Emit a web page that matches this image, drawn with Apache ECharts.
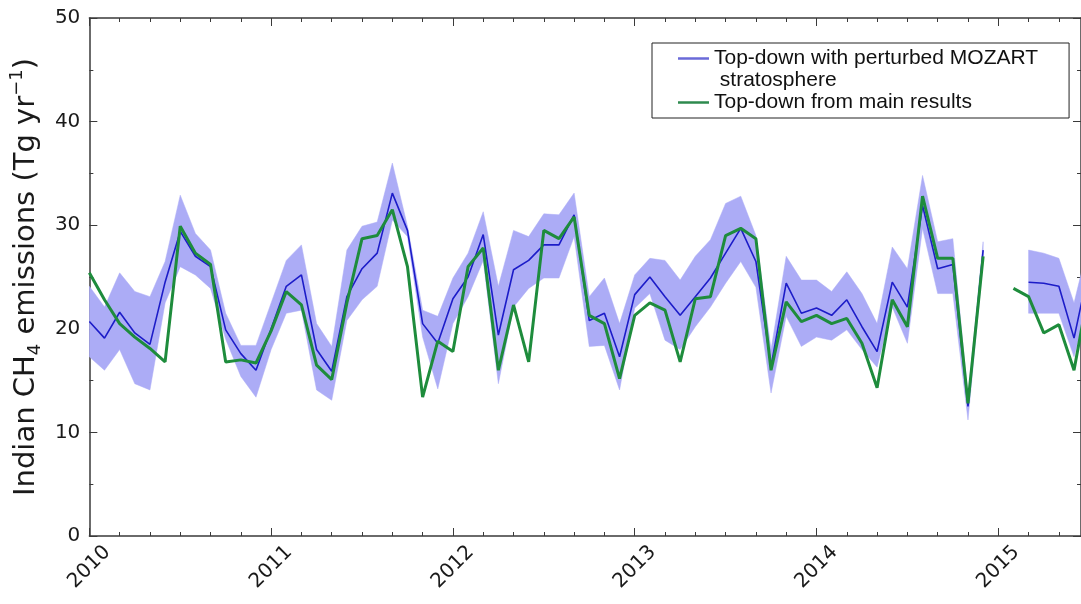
<!DOCTYPE html>
<html>
<head>
<meta charset="utf-8">
<script src="https://cdn.jsdelivr.net/npm/echarts@6/dist/echarts.min.js"></script>
<style>
  html, body { margin: 0; padding: 0; background: #fff; }
  #chart { width: 1081px; height: 604px; }
</style>
</head>
<body>
<div id="chart"></div>
<script>
// monthly points, Jan 2010 .. Jul 2015
const months = [
  '2010-01','2010-02','2010-03','2010-04','2010-05','2010-06','2010-07','2010-08','2010-09','2010-10','2010-11','2010-12',
  '2011-01','2011-02','2011-03','2011-04','2011-05','2011-06','2011-07','2011-08','2011-09','2011-10','2011-11','2011-12',
  '2012-01','2012-02','2012-03','2012-04','2012-05','2012-06','2012-07','2012-08','2012-09','2012-10','2012-11','2012-12',
  '2013-01','2013-02','2013-03','2013-04','2013-05','2013-06','2013-07','2013-08','2013-09','2013-10','2013-11','2013-12',
  '2014-01','2014-02','2014-03','2014-04','2014-05','2014-06','2014-07','2014-08','2014-09','2014-10','2014-11','2014-12',
  '2015-01','2015-02','2015-03','2015-04','2015-05','2015-06','2015-07'
];

// top-down with perturbed MOZART stratosphere (Tg/yr)
const perturbed = [
  20.7, 19.1, 21.6, 19.6, 18.5, 24.5, 29.4, 27.0, 26.0, 19.9, 17.6, 16.0,
  20.0, 24.1, 25.2, 18.0, 15.9, 23.1, 25.8, 27.3, 33.1, 29.5, 20.5, 18.6,
  22.9, 25.0, 29.1, 19.4, 25.7, 26.6, 28.1, 28.1, 31.0, 20.8, 21.5, 17.3,
  23.3, 25.0, 23.1, 21.3, 23.1, 24.9, 27.3, 29.7, 26.5, 16.4, 24.4, 21.5,
  22.0, 21.3, 22.8, 20.2, 17.8, 24.5, 22.1, 31.9, 25.8, 26.2, 12.5, 27.6,
  null, null, 24.5, 24.4, 24.1, 19.1, 26.0
];
const perturbedLow = [
  17.3, 16.0, 18.0, 14.7, 14.1, 22.5, 26.0, 25.2, 23.9, 19.0, 15.4, 13.4,
  18.0, 21.5, 21.8, 14.1, 13.1, 20.8, 22.8, 24.1, 30.5, 28.9, 19.2, 14.2,
  20.5, 23.1, 26.6, 14.7, 22.1, 23.9, 24.9, 24.9, 28.9, 18.3, 18.4, 14.1,
  22.0, 23.4, 18.9, 18.0, 20.2, 22.1, 24.4, 26.5, 24.0, 13.8, 21.2, 18.3,
  19.2, 18.9, 19.9, 18.0, 16.3, 22.1, 18.6, 29.7, 23.4, 23.4, 11.2, 26.6,
  null, null, 21.5, 21.5, 21.5, 17.3, 23.0
];
const perturbedHigh = [
  24.1, 22.1, 25.4, 23.6, 23.1, 26.5, 32.9, 29.2, 27.6, 21.5, 18.4, 18.4,
  22.5, 26.6, 28.1, 20.5, 18.3, 27.6, 29.9, 30.3, 36.0, 29.9, 21.8, 21.2,
  24.9, 27.3, 31.3, 24.1, 29.5, 28.9, 31.1, 31.0, 33.1, 23.1, 24.9, 20.5,
  25.2, 26.8, 26.6, 24.7, 27.0, 28.6, 32.1, 32.8, 29.0, 18.0, 27.0, 24.7,
  24.7, 23.6, 25.5, 23.4, 20.5, 27.9, 25.8, 34.8, 28.4, 28.7, 13.4, 28.4,
  null, null, 27.6, 27.3, 26.8, 22.5, 28.5
];
// top-down from main results
const mainResults = [
  25.4, 22.8, 20.5, 19.2, 18.1, 16.8, 29.9, 27.3, 26.2, 16.8, 17.0, 16.7,
  19.8, 23.6, 22.3, 16.5, 15.1, 22.5, 28.7, 29.0, 31.5, 26.0, 13.4, 18.8,
  17.8, 26.0, 27.8, 16.0, 22.3, 16.8, 29.5, 28.7, 30.8, 21.3, 20.5, 15.2,
  21.3, 22.5, 21.8, 16.8, 22.9, 23.1, 29.0, 29.7, 28.7, 16.0, 22.6, 20.7,
  21.3, 20.5, 21.0, 18.6, 14.3, 22.8, 20.2, 32.8, 26.8, 26.8, 12.8, 27.0,
  null, 23.9, 23.1, 19.6, 20.4, 16.0, 24.0
];

const yTicks = [0, 10, 20, 30, 40, 50];
const xMin = 2010;
const xMax = 2015.455;

const BLUE_NAME = 'Top-down with perturbed MOZART';
const GREEN_NAME = 'Top-down from main results';

function toYear(s) {
  const [y, m] = s.split('-').map(Number);
  return y + (m - 1) / 12;
}
const xs = months.map(toYear);
const pair = (arr) => xs.map((x, i) => [x, arr[i] == null ? null : arr[i]]);
const bandData = xs.map((x, i) => [x, perturbedLow[i], perturbedHigh[i]]);

const axisColor = '#3a3a3a';
const tickFont = { fontFamily: 'DejaVu Sans', fontSize: 20, color: '#1a1a1a' };

function renderBand(params, api) {
  if (params.dataIndex !== 0) return null;
  const children = [];
  let seg = [];
  const flush = () => {
    if (seg.length > 1) {
      const top = seg.map((d) => api.coord([d[0], d[2]]));
      const bot = seg.slice().reverse().map((d) => api.coord([d[0], d[1]]));
      children.push({
        type: 'polygon',
        shape: { points: top.concat(bot) },
        style: { fill: '#acacf6', stroke: '#acacf6', lineWidth: 0.5 },
      });
    }
    seg = [];
  };
  bandData.forEach((d) => {
    if (d[1] == null || d[2] == null) flush();
    else seg.push(d);
  });
  flush();
  return { type: 'group', children };
}

const chart = echarts.init(document.getElementById('chart'), null, { renderer: 'canvas' });

const xAxisBase = {
  type: 'value',
  min: xMin,
  max: xMax,
  interval: 1,
  splitLine: { show: false },
  axisLine: { show: true, onZero: false, lineStyle: { color: axisColor, width: 1.5 } },
  axisTick: { show: true, inside: true, length: 8, lineStyle: { color: axisColor, width: 1 } },
  minorTick: { show: true, splitNumber: 6, length: 4, lineStyle: { color: axisColor, width: 1 } },
};
const yAxisBase = {
  type: 'value',
  min: 0,
  max: 50,
  interval: 10,
  splitLine: { show: false },
  axisLine: { show: true, lineStyle: { color: axisColor, width: 1.5 } },
  axisTick: { show: true, inside: true, length: 8, lineStyle: { color: axisColor, width: 1 } },
  minorTick: { show: true, splitNumber: 2, length: 4, lineStyle: { color: axisColor, width: 1 } },
};

chart.setOption({
  animation: false,
  backgroundColor: '#fff',
  grid: { left: 89, right: -1, top: 18, bottom: 68, containLabel: false },
  legend: {
    left: 652,
    top: 43,
    orient: 'vertical',
    backgroundColor: '#fff',
    borderColor: '#222',
    borderWidth: 1,
    borderRadius: 0,
    padding: [5, 31, 5, 26],
    itemGap: 1,
    itemWidth: 31,
    itemHeight: 2.5,
    selectedMode: false,
    textStyle: { fontFamily: 'Liberation Sans', fontSize: 21, lineHeight: 21, color: '#111' },
    data: [
      { name: BLUE_NAME, icon: 'rect', itemStyle: { color: '#6a6ad8' } },
      { name: ' stratosphere', icon: 'none' },
      { name: GREEN_NAME, icon: 'rect', itemStyle: { color: '#2e8a4e' } },
    ],
  },
  xAxis: [
    Object.assign({}, xAxisBase, {
      position: 'bottom',
      axisLabel: Object.assign({}, tickFont, {
        rotate: 45,
        align: 'center',
        verticalAlign: 'middle',
        margin: 31,
        showMaxLabel: false,
        formatter: (v) => String(Math.round(v)),
      }),
    }),
    Object.assign({}, xAxisBase, { position: 'top', axisLabel: { show: false } }),
  ],
  yAxis: [
    Object.assign({}, yAxisBase, {
      position: 'left',
      axisLabel: Object.assign({}, tickFont, {
        margin: 9,
        formatter: (v) => (yTicks.includes(v) ? String(v) : ''),
      }),
      name: '{t|Indian CH}{sub|4}{t| emissions (Tg yr}{sup|−1}{t|)}',
      nameLocation: 'middle',
      nameRotate: 90,
      nameGap: 40,
      nameTextStyle: {
        fontFamily: 'DejaVu Sans',
        fontSize: 29,
        color: '#1a1a1a',
        rich: {
          t: { fontFamily: 'DejaVu Sans', fontSize: 29, color: '#1a1a1a', lineHeight: 36 },
          sub: { fontFamily: 'DejaVu Sans', fontSize: 18, color: '#1a1a1a', lineHeight: 36, verticalAlign: 'bottom' },
          sup: { fontFamily: 'DejaVu Sans', fontSize: 18, color: '#1a1a1a', lineHeight: 36, verticalAlign: 'top' },
        },
      },
    }),
    Object.assign({}, yAxisBase, { position: 'right', axisLabel: { show: false } }),
  ],
  series: [
    {
      type: 'custom',
      renderItem: renderBand,
      data: bandData,
      encode: { x: 0, y: [1, 2] },
      clip: true,
      silent: true,
      z: 1,
    },
    {
      name: BLUE_NAME,
      type: 'line',
      data: pair(perturbed),
      showSymbol: false,
      clip: true,
      lineStyle: { color: '#1c1cc8', width: 1.6 },
      itemStyle: { color: '#1c1cc8' },
      z: 3,
    },
    {
      name: ' stratosphere',
      type: 'line',
      data: [],
      itemStyle: { color: 'transparent' },
    },
    {
      name: GREEN_NAME,
      type: 'line',
      data: pair(mainResults),
      showSymbol: false,
      clip: true,
      lineStyle: { color: '#1e8c3c', width: 3 },
      itemStyle: { color: '#1e8c3c' },
      z: 4,
    },
  ],
});
</script>
</body>
</html>
